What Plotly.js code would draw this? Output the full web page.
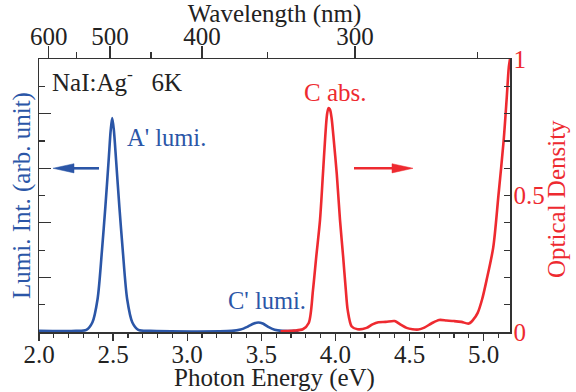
<!DOCTYPE html>
<html><head><meta charset="utf-8">
<script src="https://cdn.plot.ly/plotly-3.0.1.min.js"></script>
<style>html,body{margin:0;padding:0;background:#fff;} #chart{width:576px;height:392px;}</style>
</head><body><div id="chart"></div>
<script>
// Luminescence (left axis, arb. units) vs photon energy (eV)
const lumiEnergy = [2.00,2.25,2.32,2.36,2.395,2.425,2.448,2.47,2.484,2.494,2.505,2.52,2.542,2.565,2.595,2.63,2.67,2.75,3.30,3.36,3.41,3.45,3.48,3.51,3.55,3.59,3.64,3.75];
const lumiIntensity = [0.004,0.004,0.008,0.035,0.12,0.30,0.46,0.63,0.74,0.784,0.74,0.63,0.46,0.30,0.12,0.035,0.008,0.004,0.004,0.009,0.02,0.031,0.035,0.031,0.018,0.008,0.004,0.004];
// Absorption (right axis, optical density) vs photon energy (eV)
const absEnergy = [3.63,3.72,3.78,3.82,3.849,3.871,3.896,3.916,3.932,3.943,3.953,3.963,3.974,3.986,4.009,4.031,4.052,4.07,4.083,4.11,4.15,4.21,4.25,4.29,4.34,4.40,4.44,4.48,4.52,4.56,4.60,4.65,4.70,4.75,4.80,4.85,4.90,4.93,4.96,4.99,5.02,5.065,5.10,5.135,5.155,5.17,5.178];
const absOD = [0.003,0.005,0.010,0.033,0.155,0.277,0.41,0.58,0.72,0.795,0.82,0.815,0.785,0.72,0.58,0.41,0.277,0.155,0.08,0.02,0.010,0.015,0.028,0.036,0.037,0.040,0.027,0.015,0.010,0.009,0.016,0.032,0.044,0.042,0.040,0.037,0.031,0.045,0.07,0.12,0.19,0.31,0.50,0.70,0.85,0.97,1.0];
// Top axis wavelength ticks (nm)
const wavelengthMajor = [600,500,400,300];
const wavelengthMinor = [550,450,350,250];
const odTicks = [0,0.5,1];
const odTickText = ['0','0.5','1'];

const HC = 1239.84; // eV*nm
const BLUE = '#2b56a7', RED = '#ee2a30';
const FONT = '"Liberation Serif", "Times New Roman", Times, serif';
const FS = 25;
const W = 576, H = 392, L = 39, R = 66, T = 59, B = 60;
const pw = W - L - R, ph = H - T - B;
const px = x => (x - L) / pw;
const py = y => (H - B - y) / ph;

const traces = [
  {x: lumiEnergy, y: lumiIntensity, type: 'scatter', mode: 'lines', xaxis: 'x', yaxis: 'y',
   line: {color: BLUE, width: 2.6, shape: 'spline', smoothing: 0.8}, hoverinfo: 'skip'},
  {x: absEnergy, y: absOD, type: 'scatter', mode: 'lines', xaxis: 'x', yaxis: 'y2',
   line: {color: RED, width: 2.6, shape: 'spline', smoothing: 0.8}, hoverinfo: 'skip'},
  {x: [2.1], y: [0.5], type: 'scatter', mode: 'markers', xaxis: 'x2', yaxis: 'y',
   marker: {opacity: 0}, hoverinfo: 'skip', showlegend: false}
];

function arrow(tipX, baseX, tailX, y, color) {
  const hh = 4.6;
  return [
    {type: 'line', xref: 'paper', yref: 'paper', x0: px(baseX), x1: px(tailX), y0: py(y), y1: py(y),
     line: {color: color, width: 2.6}},
    {type: 'path', xref: 'paper', yref: 'paper',
     path: `M${px(tipX)},${py(y)} L${px(baseX)},${py(y - hh)} L${px(baseX)},${py(y + hh)} Z`,
     fillcolor: color, line: {color: color, width: 0.5}}
  ];
}

const layout = {
  width: W, height: H,
  margin: {l: L, r: R, t: T, b: B},
  paper_bgcolor: '#fff', plot_bgcolor: '#fff',
  showlegend: false, hovermode: false,
  font: {family: FONT, size: FS, color: '#222'},
  xaxis: {
    range: [2.0, 5.178], showgrid: false, zeroline: false,
    showline: true, linecolor: '#333', linewidth: 1.5,
    ticks: 'outside', ticklen: 7, tickwidth: 1.3, tickcolor: '#333',
    tick0: 2.0, dtick: 0.5, tickformat: '.1f', ticklabelstandoff: -8,
    minor: {dtick: 0.1, ticks: 'outside', ticklen: 4.5, tickwidth: 1.2, tickcolor: '#333'},
    tickfont: {family: FONT, size: FS, color: '#222'},
    title: {text: 'Photon Energy (eV)', font: {family: FONT, size: FS, color: '#222'}, standoff: 0}
  },
  xaxis2: {
    overlaying: 'x', side: 'top', anchor: 'y',
    range: [2.0, 5.178], showgrid: false, zeroline: false,
    showline: true, linecolor: '#333', linewidth: 1.5,
    ticks: 'outside', ticklen: 12, tickwidth: 1.3, tickcolor: '#333',
    tickmode: 'array', tickvals: wavelengthMajor.map(l => HC / l), ticktext: wavelengthMajor.map(String),
    ticklabelstandoff: -9,
    minor: {tickmode: 'array', tickvals: wavelengthMinor.map(l => HC / l), ticks: 'outside', ticklen: 6, tickwidth: 1.2, tickcolor: '#333'},
    tickfont: {family: FONT, size: FS, color: '#222'},
    title: {text: 'Wavelength (nm)', font: {family: FONT, size: FS, color: '#222'}, standoff: 0}
  },
  yaxis: {
    range: [0, 1], showgrid: false, zeroline: false,
    showline: true, linecolor: '#333', linewidth: 1.5,
    ticks: 'inside', ticklen: 12, tickwidth: 1.3, tickcolor: '#333',
    tick0: 0, dtick: 0.2, showticklabels: false,
    minor: {dtick: 0.1, ticks: 'inside', ticklen: 6, tickwidth: 1.2, tickcolor: '#333'},
    title: {text: 'Lumi. Int. (arb. unit)', font: {family: FONT, size: FS, color: BLUE}, standoff: 0}
  },
  yaxis2: {
    overlaying: 'y', side: 'right', anchor: 'x',
    range: [0, 1], showgrid: false, zeroline: false,
    showline: true, linecolor: '#333', linewidth: 1.5,
    ticks: 'inside', ticklen: 6, tickwidth: 1.3, tickcolor: '#333',
    tickmode: 'array', tickvals: odTicks, ticktext: odTickText, ticklabelstandoff: -3,
    minor: {dtick: 0.1, ticks: 'inside', ticklen: 6, tickwidth: 1.2, tickcolor: '#333'},
    tickfont: {family: FONT, size: FS, color: RED}
  },
  annotations: [
    {xref: 'paper', yref: 'paper', x: px(556), y: py(199), xanchor: 'center', yanchor: 'middle', showarrow: false,
     textangle: -90, text: 'Optical Density', font: {family: FONT, size: FS, color: RED}},
    {xref: 'paper', yref: 'paper', x: px(50), y: py(80), xanchor: 'left', yanchor: 'middle', showarrow: false,
     text: 'NaI:Ag<sup>-</sup>\u00a0\u00a0\u00a06K', font: {family: FONT, size: FS, color: '#222'}},
    {xref: 'paper', yref: 'paper', x: px(125), y: py(137), xanchor: 'left', yanchor: 'middle', showarrow: false,
     text: "A' lumi.", font: {family: FONT, size: 24.5, color: BLUE}},
    {xref: 'paper', yref: 'paper', x: px(302), y: py(92), xanchor: 'left', yanchor: 'middle', showarrow: false,
     text: 'C abs.', font: {family: FONT, size: FS, color: RED}},
    {xref: 'paper', yref: 'paper', x: px(226), y: py(300), xanchor: 'left', yanchor: 'middle', showarrow: false,
     text: "C' lumi.", font: {family: FONT, size: 24.5, color: BLUE}}
  ],
  shapes: [].concat(arrow(53, 74, 99, 168.3, BLUE), arrow(413, 392, 354, 168.3, RED))
};

Plotly.newPlot('chart', traces, layout, {staticPlot: true, displayModeBar: false});
</script>
</body></html>
